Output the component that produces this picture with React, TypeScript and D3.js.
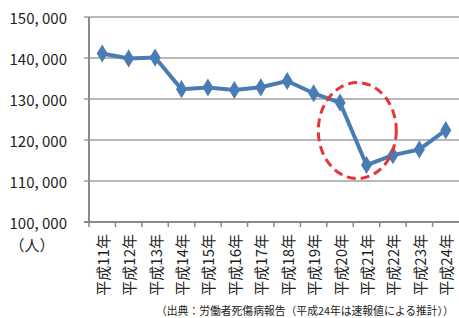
import React from "react";
import * as d3 from "d3";

const categories = ["平成11年","平成12年","平成13年","平成14年","平成15年","平成16年","平成17年","平成18年","平成19年","平成20年","平成21年","平成22年","平成23年","平成24年"];
const values = [141100,139900,140100,132400,132800,132200,132850,134400,131400,129100,113900,116300,117700,122400];
const yTicks = [100000,110000,120000,130000,140000,150000];
const unitLabel = "（人）";
const footnote = "（出典：労働者死傷病報告（平成24年は速報値による推計））";
// highlight ellipse (around 平成20年→平成21年 drop)
const highlightCategory = "平成21年";
const highlightValue = 122300;

const W = 459, H = 318;
const M = { left: 89, right: 459, top: 17, bottom: 222 };
const FONT = "'Noto Sans CJK JP', 'Noto Sans', sans-serif";

export default function App() {
  const x = d3.scaleBand<string>().domain(categories).range([M.left, M.right]).padding(0);
  const y = d3.scaleLinear().domain([100000, 150000]).range([M.bottom, M.top]);
  const cx = (c: string) => (x(c) as number) + x.bandwidth() / 2;
  const line = d3.line<number>().x((_, i) => cx(categories[i])).y((d) => y(d));
  const fmt = (v: number) => d3.format(",")(v).replace(",", ", ");
  const diamond = d3.symbol().type(d3.symbolDiamond).size(95)();
  const ex = (x(highlightCategory) as number) + 4;
  const ey = y(highlightValue);

  return (
    <svg width={W} height={H} style={{ position: "absolute", left: 0, top: 0, background: "#fff" }} fontFamily={FONT}>
      {yTicks.map((t) => (
        <g key={t}>
          {t !== 100000 && <line x1={84} x2={M.right} y1={y(t)} y2={y(t)} stroke="#a0a0a0" strokeWidth={1.6} />}
          <text x={67} y={y(t)} textAnchor="end" dominantBaseline="central" fontSize={15} fill="#222">{fmt(t)}</text>
        </g>
      ))}
      <line x1={M.left} x2={M.left} y1={M.top} y2={M.bottom} stroke="#8a8a8a" strokeWidth={2} />
      <line x1={84} x2={M.right} y1={M.bottom} y2={M.bottom} stroke="#8a8a8a" strokeWidth={2} />
      {categories.map((c) => (
        <line key={"t" + c} x1={x(c) as number} x2={x(c) as number} y1={M.bottom} y2={M.bottom + 5} stroke="#8a8a8a" strokeWidth={1.5} />
      ))}
      {categories.map((c) => (
        <text key={c} transform={`translate(${cx(c)},234) rotate(-90)`} textAnchor="end" dominantBaseline="central" fontSize={15} fill="#222">{c}</text>
      ))}
      <text x={32} y={244} textAnchor="middle" dominantBaseline="central" fontSize={15} fill="#222">{unitLabel}</text>
      <path d={line(values) as string} fill="none" stroke="#4a7cb4" strokeWidth={4} strokeLinejoin="round" />
      {values.map((v, i) => (
        <path key={i} d={diamond as string} transform={`translate(${cx(categories[i])},${y(v)}) scale(1.05,1)`} fill="#4a7cb4" />
      ))}
      <ellipse cx={ex} cy={ey} rx={39} ry={48} fill="none" stroke="#e8333a" strokeWidth={3} strokeDasharray="9,5" />
      <text x={156} y={310} fontSize={10.8} fill="#222" dominantBaseline="central">{footnote}</text>
    </svg>
  );
}
